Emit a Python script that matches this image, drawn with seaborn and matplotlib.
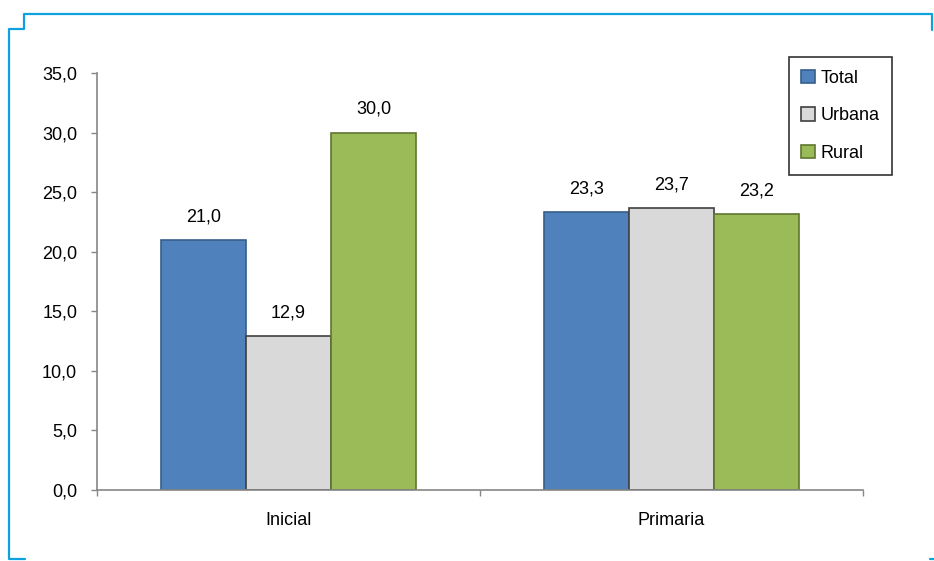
import pandas as pd
import numpy as np
import matplotlib.pyplot as plt
import seaborn as sns
from matplotlib.lines import Line2D

# data
niveles = ['Inicial', 'Primaria']
series = ['Total', 'Urbana', 'Rural']
total = [21.0, 23.3]
urbana = [12.9, 23.7]
rural = [30.0, 23.2]

colores = ['#4F81BD', '#D9D9D9', '#9BBB59']
bordes = ['#385D8A', '#404040', '#5F7530']

df = pd.DataFrame({
    'nivel': niveles * 3,
    'serie': [s for s in series for _ in niveles],
    'valor': total + urbana + rural,
})

sns.set_style('white')
plt.rcParams['font.family'] = ['Liberation Sans', 'DejaVu Sans']
plt.rcParams['text.color'] = 'black'
plt.rcParams['xtick.color'] = 'black'
plt.rcParams['ytick.color'] = 'black'

fig = plt.figure(figsize=(9.34, 5.61), dpi=100)
ax = fig.add_axes([97/934, 1-490/561, 766/934, 417/561])

sns.barplot(data=df, x='nivel', y='valor', hue='serie', order=niveles,
            hue_order=series, palette=colores, width=0.667, saturation=1,
            linewidth=1.2, ax=ax)

for cont, ec in zip(ax.containers, bordes):
    for p in cont:
        p.set_edgecolor(ec)
    ax.bar_label(cont, labels=[f'{p.get_height():.1f}'.replace('.', ',') for p in cont],
                 padding=10.5, fontsize=13, color='black')

ax.set_ylim(0, 35)
ax.set_xlim(-0.5, 1.5)
ax.set_yticks(np.arange(0, 35.1, 5))
ax.set_yticklabels([f'{v:.1f}'.replace('.', ',') for v in np.arange(0, 35.1, 5)])
ax.set_xticks([0, 1])
ax.set_xticks([-0.5, 0.5, 1.5], minor=True)
ax.tick_params(axis='x', which='major', bottom=True, length=0, labelsize=13, pad=16,
               labelcolor='black')
ax.tick_params(axis='x', which='minor', bottom=True, length=4.3, width=1,
               color='#868686', direction='out')
ax.tick_params(axis='y', left=True, length=4.3, width=1, color='#868686',
               direction='out', labelsize=13, pad=10, labelcolor='black')
ax.set_xlabel('')
ax.set_ylabel('')
for s in ['top', 'right']:
    ax.spines[s].set_visible(False)
for s in ['left', 'bottom']:
    ax.spines[s].set_color('#868686')
    ax.spines[s].set_linewidth(1.2)

leg = ax.legend(loc='upper right', bbox_to_anchor=(892/934, 1-57/561),
                bbox_transform=fig.transFigure, borderaxespad=0, fontsize=13,
                handlelength=0.75, handleheight=0.75, handletextpad=0.3,
                labelspacing=1.15, borderpad=0.7, frameon=True, fancybox=False,
                title=None)
leg.get_frame().set_edgecolor('black')
leg.get_frame().set_linewidth(1.2)
for h, ec in zip(leg.legend_handles, bordes):
    h.set_edgecolor(ec)
for t in leg.get_texts():
    t.set_color('black')

# blue decorative frame
def px(x, y):
    return (x/934, 1 - y/561)

azul = '#0FA0DE'
pts = [px(932, 30), px(932, 14), px(24, 14), px(24, 29), px(9, 29), px(9, 559), px(25, 559)]
xs, ys = zip(*pts)
fig.add_artist(Line2D(xs, ys, transform=fig.transFigure, color=azul, lw=1.6))
xs, ys = zip(px(930, 559), px(934, 559))
fig.add_artist(Line2D(xs, ys, transform=fig.transFigure, color=azul, lw=1.6))

fig.savefig('out.png', dpi=100)
